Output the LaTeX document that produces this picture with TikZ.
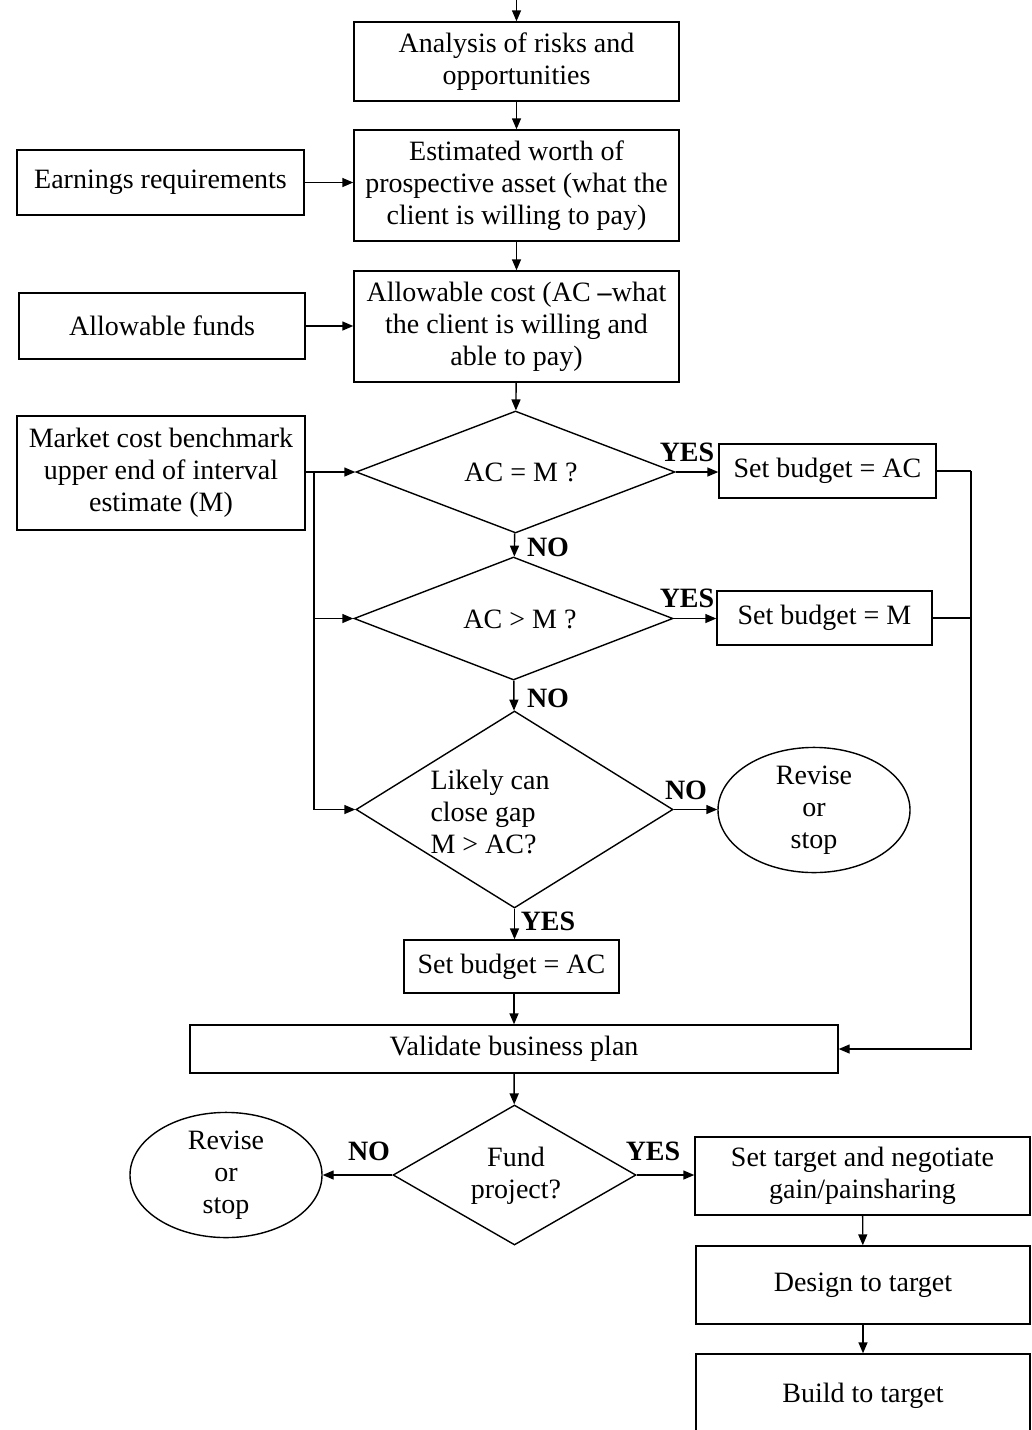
\documentclass[tikz,border=0pt]{standalone}
\usepackage{fontspec}
\setmainfont{Liberation Serif}
\usetikzlibrary{arrows.meta,shapes.geometric}

\tikzset{
  txt/.style={font=\fontsize{28}{32}\selectfont},
  box/.style={txt, draw, line width=1.4pt, inner sep=0pt, align=center},
  dec/.style={draw, diamond, line width=1.4pt, inner sep=0pt},
  oval/.style={txt, draw, ellipse, line width=1.4pt, inner sep=0pt, align=center},
  lab/.style={font=\fontsize{28}{32}\selectfont\bfseries, inner sep=0pt},
  arr/.style={line width=1.4pt, -{Triangle[length=11pt,width=9pt]}},
  ln/.style={line width=1.4pt},
}

\begin{document}
\begin{tikzpicture}[x=1pt, y=-1pt]
\useasboundingbox (0,0) rectangle (1032,1430);
\clip (0,0) rectangle (1032,1430);

% main column
\coordinate (start) at (516.5,-5);
\node[box, minimum width=325pt, minimum height=79pt] (risk) at (516.5,61.5)
  {Analysis of risks and\\opportunities};
\node[box, minimum width=325pt, minimum height=111pt] (worth) at (516.5,185.5)
  {Estimated worth of\\prospective asset (what the\\client is willing to pay)};
\node[box, minimum width=325pt, minimum height=111pt] (allow) at (516.5,326.5)
  {Allowable cost (AC \textbf{–}what\\the client is willing and\\able to pay)};

% inputs on the left
\node[box, minimum width=287pt, minimum height=65pt] (earn) at (160.5,182.5)
  {Earnings requirements};
\node[box, minimum width=286pt, minimum height=66pt] (funds) at (162,326)
  {Allowable funds};
\node[box, minimum width=288pt, minimum height=114pt] (market) at (161,473)
  {Market cost benchmark\\upper end of interval\\estimate (M)};

% decisions
\node[dec, aspect=2.6, minimum width=319pt, minimum height=122pt] (d1) at (515.5,472) {};
\node[txt] at (521,472) {AC = M ?};
\node[dec, aspect=2.6, minimum width=319pt, minimum height=123pt] (d2) at (513.5,618.5) {};
\node[txt] at (520,619) {AC > M ?};
\node[dec, aspect=1.6, minimum width=317pt, minimum height=197pt] (d3) at (514.5,809.5) {};
\node[txt, align=left] at (490,812) {Likely can\\close gap\\M > AC?};

% outcomes on the right
\node[box, minimum width=217pt, minimum height=54pt] (setac) at (827.5,471)
  {Set budget = AC};
\node[box, minimum width=215pt, minimum height=54pt] (setm) at (824.5,618)
  {Set budget = M};
\node[oval, minimum width=192pt, minimum height=112pt] (rev1) at (814,810)
  {Revise\\or\\stop};
\coordinate (join) at (971,471);

\node[box, minimum width=215pt, minimum height=53pt] (setac2) at (511.5,966.5)
  {Set budget = AC};
\node[box, minimum width=648pt, minimum height=48pt] (valid) at (514,1049)
  {Validate business plan};
\node[dec, aspect=1.74, minimum width=243pt, minimum height=140pt] (d4) at (514.5,1175) {};
\node[txt, align=center] at (516,1176) {Fund\\project?};
\node[oval, minimum width=192pt, minimum height=110pt] (rev2) at (226,1175)
  {Revise\\or\\stop};
\node[box, minimum width=335pt, minimum height=78pt] (target) at (862.5,1176)
  {Set target and negotiate\\gain/painsharing};
\node[box, minimum width=334pt, minimum height=78pt] (design) at (863,1285)
  {Design to target};
\node[box, minimum width=334pt, minimum height=84pt] (build) at (863,1396)
  {Build to target};

% branch labels
\node[lab] at (687,452) {YES};
\node[lab] at (687,598) {YES};
\node[lab] at (686,790) {NO};
\node[lab] at (548,547) {NO};
\node[lab] at (548,698) {NO};
\node[lab] at (548,921) {YES};
\node[lab] at (369,1151) {NO};
\node[lab] at (653,1151) {YES};

% connectors
\draw[arr] (start) -- (risk);
\draw[arr] (risk) -- (worth);
\draw[arr] (worth) -- (allow);
\draw[arr] (allow) -- (d1);
\draw[arr] (earn.east) -- (earn.east -| worth.west);
\draw[arr] (funds.east) -- (funds.east -| allow.west);
\draw[arr] (market.east |- d1.west) -- (d1.west);
\coordinate (tap) at (314,472);
\draw[arr] (tap) |- (d2.west);
\draw[arr] (tap) |- (d3.west);

\draw[arr] (d1.east) -- (setac.west |- d1.east);
\draw[arr] (d2.east) -- (setm.west |- d2.east);
\draw[arr] (d3.east) -- (rev1.west |- d3.east);
\draw[arr] (d1) -- (d2);
\draw[arr] (d2) -- (d3);
\draw[arr] (d3) -- (d3.south |- setac2.north);

\draw[ln] (setac.east) -- (join);
\draw[ln] (setm.east) -- (setm.east -| join);
\draw[arr] (join) |- (valid.east);

\draw[arr] (setac2.south -| valid.north) -- (valid.north);
\draw[arr] (valid) -- (d4);
\draw[arr] (d4.west) -- (rev2.east);
\draw[arr] (d4.east) -- (target.west |- d4.east);
\draw[arr] (target) -- (design);
\draw[arr] (design) -- (build);
\end{tikzpicture}
\end{document}
